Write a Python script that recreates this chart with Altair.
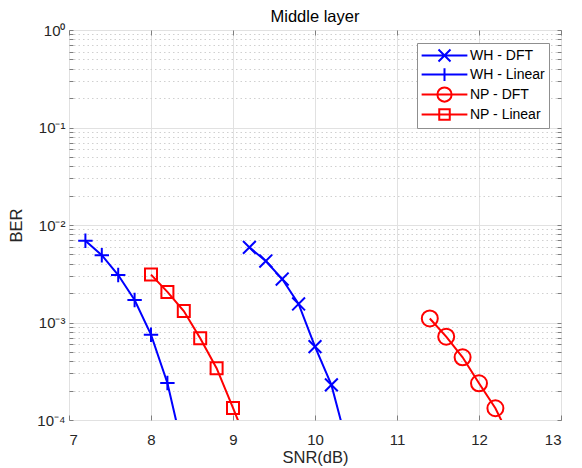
import altair as alt
import pandas as pd

FONT = "Liberation Sans, Arial, Helvetica, sans-serif"

# ---------------- data ----------------
series_names = ["WH - DFT", "WH - Linear", "NP - DFT", "NP - Linear"]
series_colors = ["#0000ff", "#0000ff", "#ff0000", "#ff0000"]

wh_dft_x = [9.2, 9.4, 9.6, 9.8, 10.0, 10.2, 10.4]
wh_dft_y = [5.9e-3, 4.27e-3, 2.79e-3, 1.55e-3, 5.65e-4, 2.29e-4, 5.3e-5]

wh_lin_x = [7.2, 7.4, 7.6, 7.8, 8.0, 8.2, 8.4]
wh_lin_y = [6.9e-3, 4.9e-3, 3.07e-3, 1.7e-3, 7.5e-4, 2.4e-4, 4.5e-5]

np_dft_x = [11.4, 11.6, 11.8, 12.0, 12.2, 12.4]
np_dft_y = [1.1e-3, 7.15e-4, 4.4e-4, 2.38e-4, 1.32e-4, 6.0e-5]

np_lin_x = [8.0, 8.2, 8.4, 8.6, 8.8, 9.0, 9.2]
np_lin_y = [3.1e-3, 2.06e-3, 1.31e-3, 6.9e-4, 3.4e-4, 1.33e-4, 5.1e-5]

x_ticks = [7, 8, 9, 10, 11, 12, 13]
y_decades = [1e-4, 1e-3, 1e-2, 1e-1, 1.0]
y_ticks = [m * d for d in y_decades[:-1] for m in range(1, 10)] + [1.0]
y_labels = ["10⁻⁴", "10⁻³", "10⁻²", "10⁻¹", "10⁰"]

rows = []
for name, xs, ys in [
    ("WH - DFT", wh_dft_x, wh_dft_y),
    ("WH - Linear", wh_lin_x, wh_lin_y),
    ("NP - DFT", np_dft_x, np_dft_y),
    ("NP - Linear", np_lin_x, np_lin_y),
]:
    for xv, yv in zip(xs, ys):
        rows.append({"series": name, "snr": xv, "ber": yv})
df = pd.DataFrame(rows)
df_leg = df.groupby("series", sort=False).head(1)

# ---------------- styling ----------------
AXIS_COLOR = "#7f7f7f"
MAJOR_GRID = "#e1e1e1"
MINOR_GRID = "#d0d0d0"
TEXT = "#262626"


def cross(h):
    return f"M{-h},{-h}L{h},{h}M{-h},{h}L{h},{-h}"


def plus(h):
    return f"M{-h},0L{h},0M0,{-h}L0,{h}"


def circle(r):
    return f"M{r},0A{r},{r} 0 1,1 {-r},0A{r},{r} 0 1,1 {r},0Z"


def square(h):
    return f"M{-h},{-h}H{h}V{h}H{-h}Z"


# plot markers: size 256 -> 8 px per unit
plot_paths = [cross(0.8), plus(0.9), circle(1.0), square(0.75)]
# legend symbols: size 225 -> 7.5 px per unit, line through the marker
L = 3.05
line = f"M{-L},0H{L}"
legend_paths = [line + cross(0.8), line + plus(0.85), line + circle(0.95), line + square(0.7)]

decade_test = "abs(log(datum.value)/LN10 - round(log(datum.value)/LN10)) < 0.01"
label_expr = (
    f"{decade_test} ? {str(y_labels)}[round(log(datum.value)/LN10)+4] : ''"
)

x_scale = alt.Scale(domain=[7, 13], nice=False, zero=False)
y_scale = alt.Scale(type="log", domain=[1e-4, 1.0], nice=False)

x_main = alt.Axis(
    orient="bottom", values=x_ticks, format="d", grid=True, gridColor=MAJOR_GRID,
    ticks=False, domain=False, labelFont=FONT, labelFontSize=15, labelColor=TEXT,
    labelPadding=12, title="SNR(dB)", titleFont=FONT, titleFontSize=16.5,
    titleFontWeight="normal", titleColor=TEXT, titlePadding=2,
)
y_main = alt.Axis(
    orient="left", values=y_ticks, grid=True,
    gridColor={"condition": {"test": decade_test, "value": MAJOR_GRID}, "value": MINOR_GRID},
    gridDash={"condition": {"test": decade_test, "value": []}, "value": [1.5, 3]},
    ticks=False, domain=False, labelExpr=label_expr, labelOverlap=False,
    labelFont=FONT, labelFontSize=15, labelColor=TEXT, labelPadding=4,
    title="BER", titleFont=FONT, titleFontSize=16.5, titleFontWeight="normal",
    titleColor=TEXT, titlePadding=12,
)


def tick_axis(orient, values, size):
    return alt.Axis(
        orient=orient, values=values, offset=-size, tickSize=size, ticks=True,
        tickColor=AXIS_COLOR, labels=False, grid=False, domain=False, title=None,
    )


color_plain = alt.Color("series:N", scale=alt.Scale(domain=series_names, range=series_colors), legend=None)

lines = alt.Chart(df).mark_line(strokeWidth=2, clip=True).encode(
    x=alt.X("snr:Q", scale=x_scale, axis=x_main),
    y=alt.Y("ber:Q", scale=y_scale, axis=y_main),
    color=color_plain,
    detail="series:N",
)

points = alt.Chart(df).mark_point(filled=False, strokeWidth=2, size=256, opacity=1, clip=True).encode(
    x=alt.X("snr:Q", scale=x_scale, axis=tick_axis("bottom", x_ticks, 5)),
    y=alt.Y("ber:Q", scale=y_scale, axis=tick_axis("left", y_ticks, 4)),
    color=color_plain,
    shape=alt.Shape("series:N", scale=alt.Scale(domain=series_names, range=plot_paths), legend=None),
)

legend = alt.Legend(
    title=None, orient="none", legendX=348, legendY=13, direction="vertical",
    fillColor="white", strokeColor="#8f8f8f", padding=4, cornerRadius=0,
    labelFont=FONT, labelFontSize=14, labelColor="#000000",
    symbolSize=225, symbolStrokeWidth=2, symbolOpacity=1, symbolFillColor="transparent",
    symbolOffset=15, labelOffset=17, rowPadding=-2,
)

legend_layer = alt.Chart(df_leg).mark_point(filled=False, opacity=0, size=10, clip=True).encode(
    x=alt.X("snr:Q", scale=x_scale, axis=tick_axis("top", x_ticks, 5)),
    y=alt.Y("ber:Q", scale=y_scale, axis=tick_axis("right", y_ticks, 4)),
    color=alt.Color("series:N", scale=alt.Scale(domain=series_names, range=series_colors), legend=legend),
    shape=alt.Shape("series:N", scale=alt.Scale(domain=series_names, range=legend_paths), legend=legend),
)

chart = (
    alt.layer(lines, points, legend_layer)
    .resolve_scale(color="independent", shape="independent")
    .resolve_axis(x="independent", y="independent")
    .properties(
        width=492, height=390,
        title=alt.TitleParams("Middle layer", font=FONT, fontSize=16.5, fontWeight="normal",
                              color="#000000", offset=-2, anchor="middle"),
        padding={"left": 0, "top": 0, "right": 0, "bottom": 0},
        background="white",
    )
    .configure_view(stroke=AXIS_COLOR, strokeWidth=1)
)

chart.save("out.html", embed_options={"renderer": "svg", "actions": False})
